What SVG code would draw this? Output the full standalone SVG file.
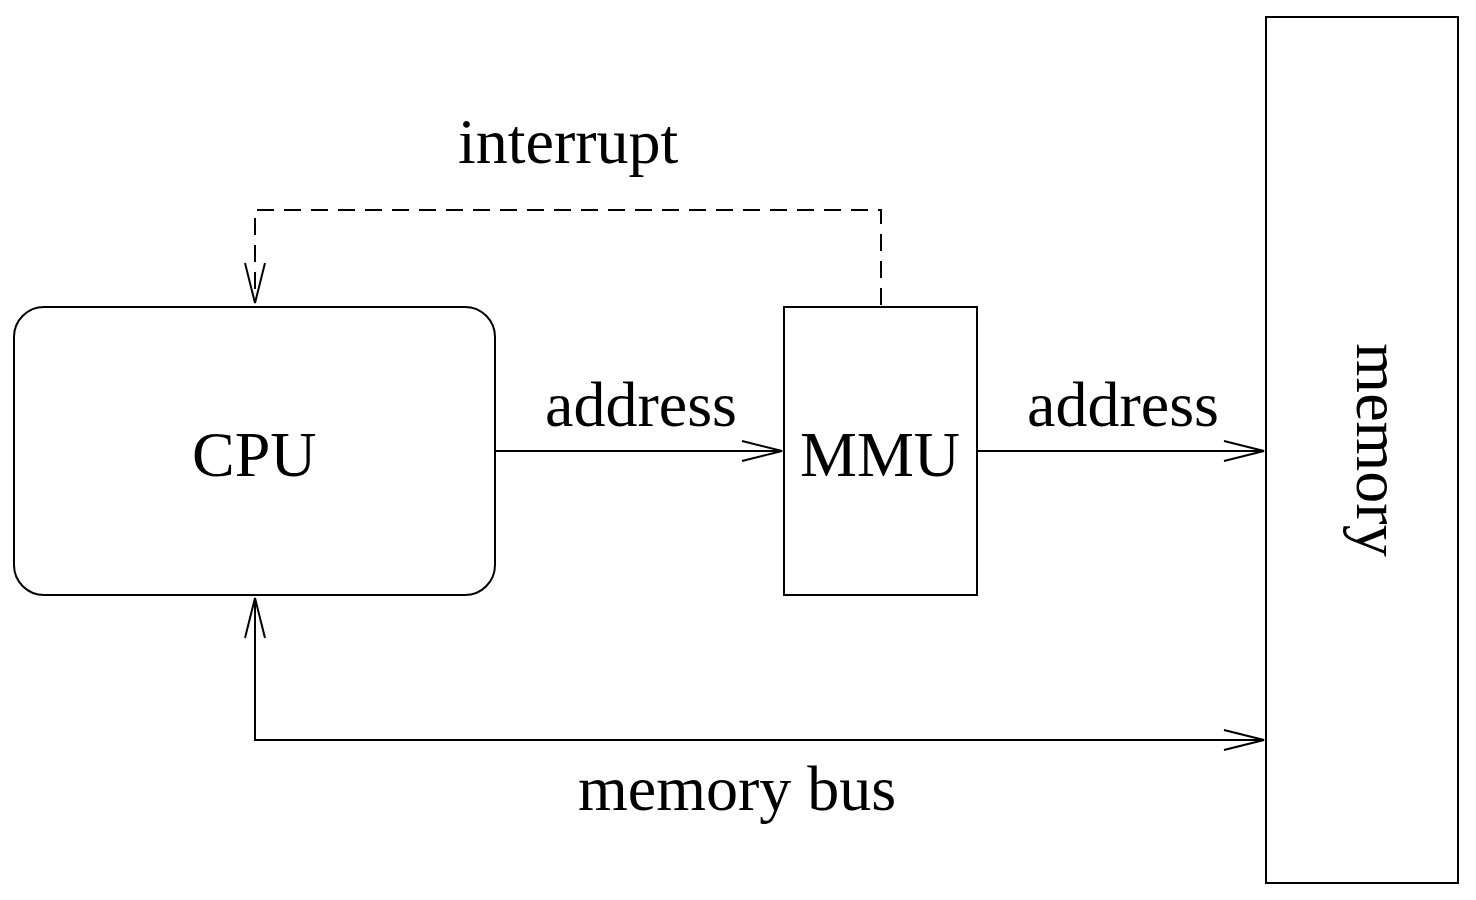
<svg xmlns="http://www.w3.org/2000/svg" width="1476" height="900" viewBox="0 0 1476 900">
<style>
.box{fill:#fff;stroke:#000;stroke-width:2}
.ln{fill:none;stroke:#000;stroke-width:2}
.dash{stroke-dasharray:17 10}
text{font-family:"Liberation Serif","Times New Roman",serif;font-size:64px;fill:#000}
</style>
<defs>
<marker id="ah" markerUnits="userSpaceOnUse" markerWidth="44" markerHeight="24" viewBox="0 0 44 24" refX="41" refY="12" orient="auto-start-reverse">
<path d="M1,2 L41,12 L1,22" fill="none" stroke="#000" stroke-width="2"/>
</marker>
</defs>
<rect width="1476" height="900" fill="#fff"/>
<g id="cpu"><rect class="box" x="14" y="307" width="481" height="288" rx="30"/><text x="192" y="476">CPU</text></g>
<g id="mmu"><rect class="box" x="784" y="307" width="193" height="288"/><text x="800" y="476">MMU</text></g>
<g id="memory"><rect class="box" x="1266" y="17" width="192" height="866"/><text transform="translate(1357,450) rotate(90)" text-anchor="middle">memory</text></g>
<g id="connectors">
<path class="ln" d="M495,451 H782" marker-end="url(#ah)"/>
<path class="ln" d="M977,451 H1264" marker-end="url(#ah)"/>
<path class="ln" d="M255,598 V740 H1264" marker-start="url(#ah)" marker-end="url(#ah)"/>
<path class="ln dash" d="M881,305 V210 H255 V303" marker-end="url(#ah)"/>
</g>
<g id="labels">
<text x="458" y="163">interrupt</text>
<text x="545" y="426">address</text>
<text x="1027" y="426">address</text>
<text x="578" y="810">memory bus</text>
</g>
</svg>
